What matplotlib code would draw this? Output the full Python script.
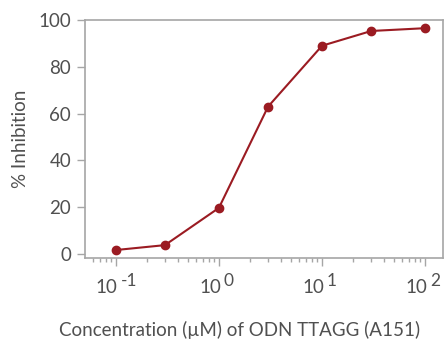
import matplotlib
matplotlib.use("Agg")
import matplotlib.pyplot as plt
import numpy as np
from matplotlib.ticker import LogLocator, NullFormatter, FixedLocator
from matplotlib.transforms import blended_transform_factory, offset_copy

concentration = [0.1, 0.3, 1, 3, 10, 30, 100]
inhibition = [1.7, 3.8, 19.7, 63, 89, 95.3, 96.5]
yticks = [0, 20, 40, 60, 80, 100]
xtick_exponents = [-1, 0, 1, 2]

plt.rcParams['font.family'] = ['Lato', 'DejaVu Sans']
text_color = '#505050'
spine_color = '#a6a6a6'
red = '#9b1b22'

fig = plt.figure(figsize=(4.48, 3.41), dpi=100)
ax = fig.add_axes([0.19, 0.2434, 0.799, 0.698])
ax.plot(concentration, inhibition, color=red, lw=1.5, marker='o', ms=6, zorder=3)
ax.set_xscale('log')
ax.set_xlim(0.0505, 149)
ax.set_ylim(-1.7, 100)

for s in ax.spines.values():
    s.set_color(spine_color)
    s.set_linewidth(1.2)

ax.set_yticks(yticks)
ax.set_yticklabels([str(v) for v in yticks], fontsize=13.5, color=text_color)
ax.tick_params(axis='y', colors=spine_color, labelcolor=text_color, length=6, width=1, pad=4)

xt = [10.0 ** e for e in xtick_exponents]
ax.xaxis.set_major_locator(FixedLocator(xt))
ax.xaxis.set_minor_locator(LogLocator(base=10, subs=np.arange(2, 10)))
ax.xaxis.set_minor_formatter(NullFormatter())
ax.set_xticklabels(['' for _ in xt])
ax.tick_params(axis='x', which='major', colors=spine_color, length=6, width=1)
ax.tick_params(axis='x', which='minor', colors=spine_color, length=3, width=1)

trans = blended_transform_factory(ax.transData, ax.transAxes)
for v, e in zip(xt, xtick_exponents):
    t1 = offset_copy(trans, fig=fig, x=-9, y=-21, units='dots')
    ax.text(v, 0, '10', transform=t1, ha='center', va='top', fontsize=13.5,
            color=text_color)
    t2 = offset_copy(trans, fig=fig, x=5, y=-15, units='dots')
    ax.text(v, 0, ('-1' if e < 0 else str(e)), transform=t2, ha='left', va='top',
            fontsize=12.5, color=text_color)

ax.set_ylabel('% Inhibition', fontsize=13.5, color=text_color, labelpad=7)
fig.text(0.535, 0.006, 'Concentration (µM) of ODN TTAGG (A151)', ha='center', va='bottom',
         fontsize=13.5, color=text_color)

fig.savefig('out.png', dpi=100)
